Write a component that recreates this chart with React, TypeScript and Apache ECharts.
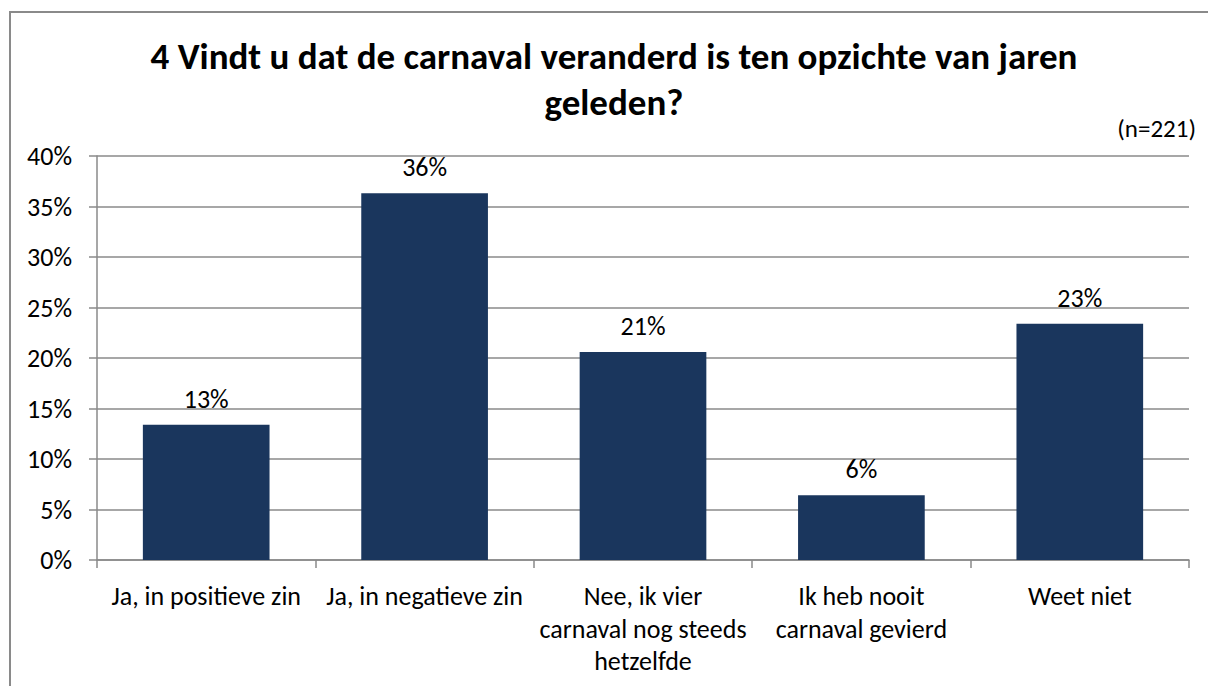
import React, { useEffect, useRef } from "react";
import * as echarts from "echarts";

const categories = [
  "Ja, in positieve zin",
  "Ja, in negatieve zin",
  "Nee, ik vier\ncarnaval nog steeds\nhetzelfde",
  "Ik heb nooit\ncarnaval gevierd",
  "Weet niet",
];
const values = [13.4, 36.3, 20.6, 6.4, 23.4];
const titleText = "4 Vindt u dat de carnaval veranderd is ten opzichte van jaren\ngeleden?";
const noteText = "(n=221)";

const FONT = "Carlito, Lato, 'Open Sans', sans-serif";

export default function App() {
  const ref = useRef<HTMLDivElement>(null);
  useEffect(() => {
    if (!ref.current) return;
    const chart = echarts.init(ref.current, undefined, { renderer: "svg" });
    chart.setOption({
      animation: false,
      backgroundColor: "#ffffff",
      textStyle: { fontFamily: FONT },
      graphic: [
        {
          type: "polyline",
          shape: { points: [[10, 700], [10, 12], [1220, 12]] },
          style: { fill: "none", stroke: "#8a8a8a", lineWidth: 2 },
          silent: true,
        },
        {
          type: "text",
          x: 614,
          y: 33,
          style: {
            text: titleText,
            fontFamily: FONT,
            fontSize: 37,
            fontWeight: "bold",
            fill: "#000000",
            align: "center",
            lineHeight: 46,
          },
        },
        {
          type: "text",
          x: 1196,
          y: 116,
          style: {
            text: noteText,
            fontFamily: FONT,
            fontSize: 25,
            fill: "#000000",
            align: "right",
          },
        },
      ],
      grid: { left: 97, right: 19, top: 156, bottom: 126, containLabel: false },
      xAxis: {
        type: "category",
        data: categories,
        axisLine: { lineStyle: { color: "#8a8a8a", width: 1.5 } },
        axisTick: { show: true, length: 8, alignWithLabel: false, lineStyle: { color: "#8a8a8a", width: 1.5 } },
        axisLabel: {
          interval: 0,
          color: "#000000",
          fontFamily: FONT,
          fontSize: 26,
          lineHeight: 32.5,
          margin: 20,
        },
      },
      yAxis: {
        type: "value",
        min: 0,
        max: 40,
        interval: 5,
        axisLine: { show: true, lineStyle: { color: "#8a8a8a", width: 1.5 } },
        axisTick: { show: true, length: 8, lineStyle: { color: "#8a8a8a", width: 1.5 } },
        splitLine: { show: true, lineStyle: { color: "#8a8a8a", width: 1.5 } },
        axisLabel: {
          color: "#000000",
          fontFamily: FONT,
          fontSize: 26,
          margin: 25,
          formatter: (v: number) => v + "%",
        },
      },
      series: [
        {
          type: "bar",
          data: values,
          barCategoryGap: "42%",
          itemStyle: { color: "#1a365d" },
          label: {
            show: true,
            position: "top",
            distance: 13,
            color: "#000000",
            fontFamily: FONT,
            fontSize: 26,
            formatter: (p: any) => Math.round(p.value) + "%",
          },
        },
      ],
    });
    return () => chart.dispose();
  }, []);
  return (
    <div
      ref={ref}
      style={{ position: "fixed", left: 0, top: 0, width: 1208, height: 686 }}
    />
  );
}
